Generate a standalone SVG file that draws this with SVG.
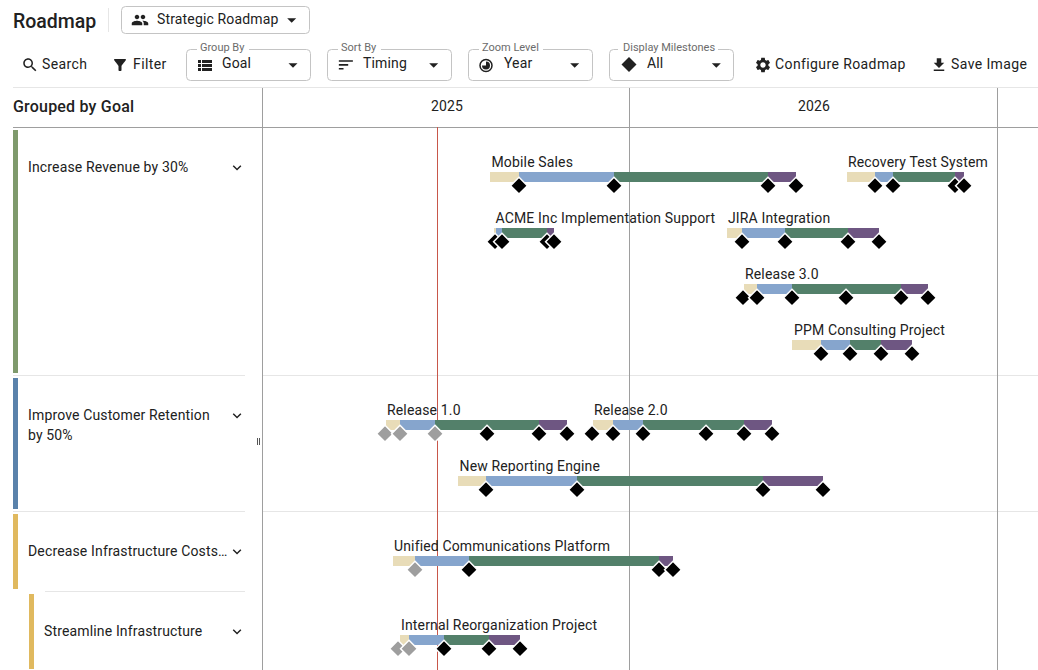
<svg xmlns="http://www.w3.org/2000/svg" width="1038" height="670" viewBox="0 0 1038 670">
<style>
text{font-family:Roboto,"Liberation Sans",sans-serif;fill:#212121;font-size:14px;letter-spacing:.15px}
.btn{letter-spacing:.4px}
.sm{font-size:11px;fill:#6b6b6b;letter-spacing:0}
.hd{font-weight:500}
.lt{stroke:#e6e6e6;stroke-width:1;fill:none}
.gr{stroke:#9e9e9e;stroke-width:1;fill:none}
.box{fill:none;stroke:#c4c4c4;stroke-width:1}
.ic{fill:#212121}
.b1{fill:#e8dcb8}.b2{fill:#86a5cd}.b3{fill:#53806a}.b4{fill:#6e5682}
</style>
<defs>
<path id="dk" d="M0-8.700 8.400-.3 0 8.100-8.400-.3Z" fill="#000" stroke="#fff" stroke-width="1.500"/>
<path id="dg" d="M0-8.700 8.400-.3 0 8.100-8.400-.3Z" fill="#9e9e9e" stroke="#fff" stroke-width="1.500"/>
<path id="caret" d="M-4.500-2.250H4.500L0 2.250Z" fill="#212121"/>
<path id="chev" d="M7.410 8.590 12 13.170l4.590-4.580L18 10l-6 6-6-6z" fill="#212121"/>
</defs>

<g id="toolbar">
<text x="13" y="28" class="hd" style="font-size:19.500px;letter-spacing:0">Roadmap</text>
<path class="lt" d="M108.500 8V32"/>
<rect class="box" x="121.500" y="6.500" width="188" height="27" rx="4"/>
<path class="ic" transform="translate(131,11) scale(.75)" d="M16 11c1.660 0 2.990-1.340 2.990-3S17.660 5 16 5c-1.660 0-3 1.340-3 3s1.340 3 3 3zm-8 0c1.660 0 2.990-1.340 2.990-3S9.660 5 8 5C6.340 5 5 6.340 5 8s1.340 3 3 3zm0 2c-2.330 0-7 1.170-7 3.500V19h14v-2.500c0-2.330-4.670-3.500-7-3.500zm8 0c-.29 0-.62.02-.97.05 1.160.84 1.970 1.970 1.970 3.450V19h6v-2.500c0-2.330-4.670-3.500-7-3.500z"/>
<text x="157" y="24">Strategic Roadmap</text>
<use href="#caret" x="291.700" y="20.500"/>

<path class="ic" transform="translate(21,56) scale(.75)" d="M15.500 14h-.79l-.28-.27C15.410 12.590 16 11.110 16 9.500 16 5.910 13.090 3 9.500 3S3 5.910 3 9.500 5.910 16 9.500 16c1.610 0 3.090-.59 4.230-1.570l.27.28v.79l5 4.990L20.490 19l-4.990-5zm-6 0C7.010 14 5 11.990 5 9.500S7.010 5 9.500 5 14 7.010 14 9.500 11.990 14 9.500 14z"/>
<text class="btn" x="42" y="69">Search</text>
<path class="ic" transform="translate(111,56) scale(.75)" d="M4.250 5.610C6.270 8.200 10 13 10 13v6c0 .55.45 1 1 1h2c.55 0 1-.45 1-1v-6s3.720-4.800 5.740-7.390c.51-.66.04-1.610-.79-1.610H5.040c-.83 0-1.300.95-.79 1.610z"/>
<text class="btn" x="133" y="69">Filter</text>

<path class="box" d="M197 49.500H190.500a4 4 0 0 0-4 4V76.500a4 4 0 0 0 4 4H306.500a4 4 0 0 0 4-4V53.500a4 4 0 0 0-4-4H249"/>
<text class="sm" x="200" y="51">Group By</text>
<path class="ic" d="M198 60h3v3h-3zM202 60h10v3h-10zM198 64h3v3h-3zM202 64h10v3h-10zM198 68h3v3h-3zM202 68h10v3h-10z"/>
<text x="222" y="68">Goal</text>
<use href="#caret" x="293" y="65.500"/>

<path class="box" d="M338 49.500H331.500a4 4 0 0 0-4 4V76.500a4 4 0 0 0 4 4H447.500a4 4 0 0 0 4-4V53.500a4 4 0 0 0-4-4H381"/>
<text class="sm" x="341" y="51">Sort By</text>
<path class="ic" transform="translate(336.500,55.500) scale(.78)" d="M3 18h6v-2H3v2zM3 6v2h18V6H3zm0 7h12v-2H3v2z"/>
<text x="363" y="68">Timing</text>
<use href="#caret" x="433.700" y="65.500"/>

<path class="box" d="M479 49.500H472.500a4 4 0 0 0-4 4V76.500a4 4 0 0 0 4 4H588.500a4 4 0 0 0 4-4V53.500a4 4 0 0 0-4-4H543"/>
<text class="sm" x="482" y="51">Zoom Level</text>
<circle cx="486" cy="65.500" r="6" fill="none" stroke="#212121" stroke-width="1.500"/>
<path class="ic" d="M486 61.500a4 4 0 1 1-4 4H486Z"/>
<text x="504" y="68">Year</text>
<use href="#caret" x="574.700" y="65.500"/>

<path class="box" d="M618 49.500H613.500a4 4 0 0 0-4 4V76.500a4 4 0 0 0 4 4H729.500a4 4 0 0 0 4-4V53.500a4 4 0 0 0-4-4H718"/>
<text class="sm" x="623" y="51">Display Milestones</text>
<path class="ic" d="M629 57 636.500 64.500 629 72 621.500 64.500Z"/>
<text x="647" y="68">All</text>
<use href="#caret" x="716.300" y="65.500"/>

<path class="ic" transform="translate(754,56) scale(.75)" d="M19.140 12.940c.04-.3.06-.61.06-.94 0-.32-.02-.64-.07-.94l2.030-1.580c.18-.14.23-.41.12-.61l-1.920-3.320c-.12-.22-.37-.29-.59-.22l-2.390.96c-.5-.38-1.030-.7-1.620-.94l-.36-2.540c-.04-.24-.24-.41-.48-.41h-3.840c-.24 0-.43.17-.47.41l-.36 2.540c-.59.24-1.130.57-1.620.94l-2.390-.96c-.22-.08-.47 0-.59.22L2.740 8.870c-.12.21-.08.47.12.61l2.030 1.580c-.05.3-.09.63-.09.94s.02.64.07.94l-2.030 1.580c-.18.14-.23.41-.12.61l1.920 3.320c.12.22.37.29.59.22l2.390-.96c.5.38 1.030.7 1.620.94l.36 2.540c.05.24.24.41.48.41h3.840c.24 0 .44-.17.47-.41l.36-2.540c.59-.24 1.130-.56 1.620-.94l2.390.96c.22.08.47 0 .59-.22l1.920-3.320c.12-.22.07-.47-.12-.61l-2.010-1.580zM12 15.600c-1.980 0-3.600-1.620-3.600-3.600s1.620-3.600 3.600-3.600 3.600 1.620 3.600 3.600-1.620 3.600-3.600 3.600z"/>
<text class="btn" x="775" y="69">Configure Roadmap</text>
<path class="ic" transform="translate(930,56) scale(.75)" d="M19 9h-4V3H9v6H5l7 7 7-7zM5 18v2h14v-2H5z"/>
<text class="btn" x="951" y="69">Save Image</text>
</g>

<g id="grid">
<path class="lt" d="M13 87.500H1038M13 375.500H245M263 375.500H1038M13 511.500H245M263 511.500H1038M45 591.500H245"/>
<path class="gr" d="M13 127.500H1038M262.500 88V670M629.500 88V670M997.500 88V670"/>
<path d="M437.500 127V670" stroke="#c8574a" fill="none"/>
<text class="hd" x="13" y="112" style="font-size:16px;letter-spacing:.2px">Grouped by Goal</text>
<text x="431" y="111">2025</text>
<text x="798" y="111">2026</text>
<path d="M257.500 438V445M259.500 438V445" stroke="#555" fill="none"/>
</g>

<g id="goal-revenue">
<rect x="13" y="130" width="5" height="243" fill="#7f9a6c"/>
<text x="28" y="172">Increase Revenue by 30%</text>
<use href="#chev" transform="translate(228.400,159.100) scale(.72)"/>
</g>
<g id="goal-retention">
<rect x="13" y="378" width="5" height="131" fill="#5a82ab"/>
<text x="28" y="420">Improve Customer Retention</text>
<text x="28" y="440">by 50%</text>
<use href="#chev" transform="translate(228.400,407.100) scale(.72)"/>
</g>
<g id="goal-infrastructure">
<rect x="13" y="514" width="5" height="75" fill="#e0b95f"/>
<text x="28" y="556">Decrease Infrastructure Costs…</text>
<use href="#chev" transform="translate(228.400,543.100) scale(.72)"/>
</g>
<g id="goal-streamline">
<rect x="29" y="594" width="5" height="75" fill="#e0b95f"/>
<text x="44" y="636">Streamline Infrastructure</text>
<use href="#chev" transform="translate(228.400,623.100) scale(.72)"/>
</g>

<g id="mobile-sales">
<text x="491.500" y="167">Mobile Sales</text>
<rect class="b1" x="490" y="172" width="29" height="10"/><rect class="b2" x="519" y="172" width="95" height="10"/><rect class="b3" x="614" y="172" width="154" height="10"/><rect class="b4" x="768" y="172" width="28" height="10"/>
<use href="#dk" x="519" y="186"/><use href="#dk" x="614" y="186"/><use href="#dk" x="768" y="186"/><use href="#dk" x="796" y="186"/>
</g>
<g id="acme">
<text x="495.500" y="223">ACME Inc Implementation Support</text>
<rect class="b1" x="494" y="228" width="2" height="10"/><rect class="b2" x="496" y="228" width="6" height="10"/><rect class="b3" x="502" y="228" width="45" height="10"/><rect class="b4" x="547" y="228" width="7" height="10"/>
<use href="#dk" x="495" y="242"/><use href="#dk" x="502" y="242"/><use href="#dk" x="547" y="242"/><use href="#dk" x="554" y="242"/>
</g>
<g id="recovery">
<text x="848" y="167">Recovery Test System</text>
<rect class="b1" x="847" y="172" width="28" height="10"/><rect class="b2" x="875" y="172" width="18" height="10"/><rect class="b3" x="893" y="172" width="62" height="10"/><rect class="b4" x="955" y="172" width="9" height="10"/>
<use href="#dk" x="875" y="186"/><use href="#dk" x="893" y="186"/><use href="#dk" x="955" y="186"/><use href="#dk" x="964" y="186"/>
</g>
<g id="jira">
<text x="728" y="223">JIRA Integration</text>
<rect class="b1" x="727" y="228" width="15" height="10"/><rect class="b2" x="742" y="228" width="43" height="10"/><rect class="b3" x="785" y="228" width="63" height="10"/><rect class="b4" x="848" y="228" width="31" height="10"/>
<use href="#dk" x="742" y="242"/><use href="#dk" x="785" y="242"/><use href="#dk" x="848" y="242"/><use href="#dk" x="879" y="242"/>
</g>
<g id="release-3">
<text x="745" y="279">Release 3.0</text>
<rect class="b1" x="744" y="284" width="13" height="10"/><rect class="b2" x="757" y="284" width="35" height="10"/><rect class="b3" x="792" y="284" width="109" height="10"/><rect class="b4" x="901" y="284" width="27" height="10"/>
<use href="#dk" x="743" y="298"/><use href="#dk" x="757" y="298"/><use href="#dk" x="792" y="298"/><use href="#dk" x="846" y="298"/><use href="#dk" x="901" y="298"/><use href="#dk" x="928" y="298"/>
</g>
<g id="ppm">
<text x="794" y="335">PPM Consulting Project</text>
<rect class="b1" x="792" y="340" width="29" height="10"/><rect class="b2" x="821" y="340" width="29" height="10"/><rect class="b3" x="850" y="340" width="31" height="10"/><rect class="b4" x="881" y="340" width="31" height="10"/>
<use href="#dk" x="821" y="354"/><use href="#dk" x="850" y="354"/><use href="#dk" x="881" y="354"/><use href="#dk" x="912" y="354"/>
</g>
<g id="release-1">
<text x="387" y="415">Release 1.0</text>
<rect class="b1" x="386" y="420" width="14" height="10"/><rect class="b2" x="400" y="420" width="35" height="10"/><rect class="b3" x="435" y="420" width="104" height="10"/><rect class="b4" x="539" y="420" width="28" height="10"/>
<use href="#dg" x="385" y="434"/><use href="#dg" x="400" y="434"/><use href="#dg" x="435" y="434"/><use href="#dk" x="487" y="434"/><use href="#dk" x="539" y="434"/><use href="#dk" x="567" y="434"/>
</g>
<g id="release-2">
<text x="594" y="415">Release 2.0</text>
<rect class="b1" x="593" y="420" width="20" height="10"/><rect class="b2" x="613" y="420" width="30" height="10"/><rect class="b3" x="643" y="420" width="101" height="10"/><rect class="b4" x="744" y="420" width="28" height="10"/>
<use href="#dk" x="592" y="434"/><use href="#dk" x="613" y="434"/><use href="#dk" x="643" y="434"/><use href="#dk" x="706" y="434"/><use href="#dk" x="744" y="434"/><use href="#dk" x="772" y="434"/>
</g>
<g id="new-reporting">
<text x="459.500" y="471">New Reporting Engine</text>
<rect class="b1" x="458" y="476" width="28" height="10"/><rect class="b2" x="486" y="476" width="91" height="10"/><rect class="b3" x="577" y="476" width="186" height="10"/><rect class="b4" x="763" y="476" width="60" height="10"/>
<use href="#dk" x="486" y="490"/><use href="#dk" x="577" y="490"/><use href="#dk" x="763" y="490"/><use href="#dk" x="823" y="490"/>
</g>
<g id="unified">
<text x="394" y="551">Unified Communications Platform</text>
<rect class="b1" x="393" y="556" width="22" height="10"/><rect class="b2" x="415" y="556" width="54" height="10"/><rect class="b3" x="469" y="556" width="190" height="10"/><rect class="b4" x="659" y="556" width="14" height="10"/>
<use href="#dg" x="415" y="570"/><use href="#dk" x="469" y="570"/><use href="#dk" x="659" y="570"/><use href="#dk" x="673" y="570"/>
</g>
<g id="internal">
<text x="401" y="630">Internal Reorganization Project</text>
<rect class="b1" x="400" y="635" width="9" height="10"/><rect class="b2" x="409" y="635" width="35" height="10"/><rect class="b3" x="444" y="635" width="45" height="10"/><rect class="b4" x="489" y="635" width="31" height="10"/>
<use href="#dg" x="398" y="649"/><use href="#dg" x="409" y="649"/><use href="#dk" x="444" y="649"/><use href="#dk" x="489" y="649"/><use href="#dk" x="520" y="649"/>
</g>
</svg>
